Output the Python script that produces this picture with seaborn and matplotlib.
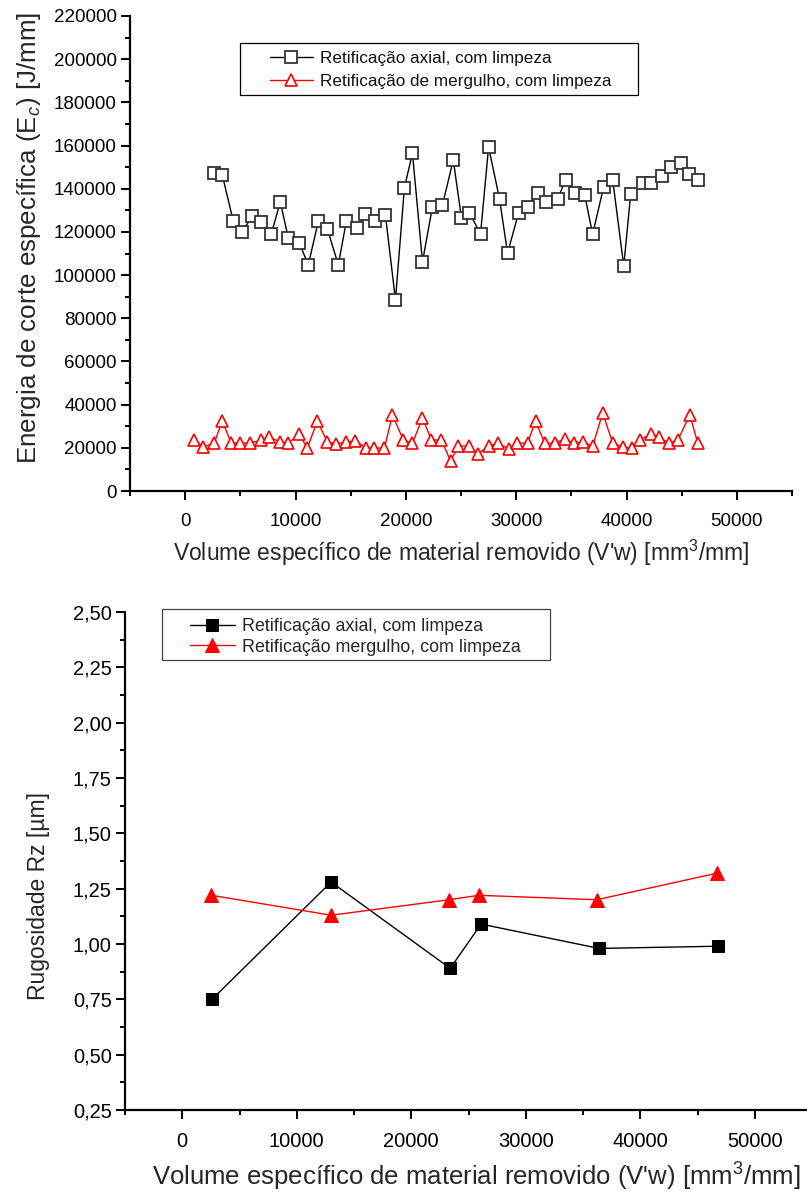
import matplotlib
matplotlib.use("Agg")
import matplotlib.pyplot as plt
import seaborn as sns
from matplotlib.patches import Rectangle
from matplotlib.ticker import FixedLocator, MultipleLocator

# ---------------- data ----------------
axial_x = [2630, 3360, 4360, 5170, 6080, 6900, 7800, 8620, 9350, 10340,
           11160, 12070, 12890, 13880, 14610, 15610, 16330, 17240, 18150, 19060,
           19870, 20600, 21510, 22410, 23320, 24300, 25040, 25770, 26770, 27500,
           28490, 29220, 30220, 31030, 31940, 32670, 33760, 34480, 35300, 36210,
           36930, 37930, 38750, 39750, 40380, 41470, 42200, 43190, 44010, 44920,
           45640, 46460]
axial_ec = [147500, 146400, 125000, 120000, 127400, 124600, 119000, 133900, 117200, 114900,
            104700, 125000, 121400, 104700, 125000, 121800, 128300, 125000, 127800, 88500,
            140400, 156500, 106100, 131600, 132500, 153300, 126500, 128800, 119000, 159300,
            135300, 110200, 128800, 131600, 138000, 133900, 135300, 144100, 138000, 137100,
            119000, 140800, 144100, 104200, 137600, 142700, 142700, 145900, 150100, 151900,
            146800, 144100]

merg_x = [820, 1630, 2630, 3360, 4170, 4990, 5900, 6900, 7620, 8620,
          9350, 10340, 11070, 11980, 12890, 13700, 14610, 15430, 16420, 17150,
          18060, 18780, 19780, 20600, 21510, 22320, 23230, 24050, 24770, 25770,
          26500, 27500, 28310, 29310, 30040, 31030, 31760, 32580, 33480, 34390,
          35210, 36030, 36930, 37840, 38750, 39660, 40470, 41200, 42200, 42920,
          43830, 44650, 45740, 46460]
merg_ec = [23600, 20400, 22200, 32400, 22200, 22200, 22200, 23600, 25000, 22700,
           22200, 26400, 19900, 32400, 22700, 21800, 22700, 23200, 19900, 19900,
           19900, 35200, 23600, 22200, 33800, 23600, 23600, 13900, 20800, 20800,
           17100, 20800, 22200, 19500, 22200, 22200, 32400, 22200, 22200, 24100,
           22200, 22700, 20800, 36100, 22200, 20400, 19900, 23600, 26400, 25000,
           22200, 23600, 35200, 22200]

rz_axial_x = [2600, 13000, 23400, 26100, 36400, 46800]
rz_axial = [0.75, 1.28, 0.89, 1.09, 0.98, 0.99]
rz_merg_x = [2550, 13000, 23300, 25900, 36200, 46700]
rz_merg = [1.22, 1.13, 1.20, 1.22, 1.20, 1.32]

x_ticks = [0, 10000, 20000, 30000, 40000, 50000]
x_ticklabels = ["0", "10000", "20000", "30000", "40000", "50000"]
ec_ticks = [0, 20000, 40000, 60000, 80000, 100000, 120000, 140000, 160000, 180000, 200000, 220000]
ec_ticklabels = [str(v) for v in ec_ticks]
rz_ticks = [0.25, 0.50, 0.75, 1.00, 1.25, 1.50, 1.75, 2.00, 2.25, 2.50]
rz_ticklabels = ["0,25", "0,50", "0,75", "1,00", "1,25", "1,50", "1,75", "2,00", "2,25", "2,50"]

lbl_axial_top = "Retificação axial, com limpeza"
lbl_merg_top = "Retificação de mergulho, com limpeza"
lbl_axial_bot = "Retificação axial, com limpeza"
lbl_merg_bot = "Retificação mergulho, com limpeza"
xlabel = "Volume específico de material removido (V'w) [mm$^3$/mm]"
ylabel_top = "Energia de corte específica (E$_c$) [J/mm]"
ylabel_bot = "Rugosidade Rz [µm]"

# ---------------- style ----------------
sns.set_style("ticks")
plt.rcParams["font.family"] = ["Liberation Sans", "DejaVu Sans"]
plt.rcParams["mathtext.fontset"] = "custom"
plt.rcParams["mathtext.rm"] = "Liberation Sans"
plt.rcParams["mathtext.it"] = "Liberation Sans:italic"

W, H = 807, 1196
fig = plt.figure(figsize=(W / 100, H / 100), dpi=100)

def px_axes(l, t, r, b):
    return fig.add_axes([l / W, 1 - b / H, (r - l) / W, (b - t) / H])

def px_box(ax, l, t, r, b, color):
    ax.add_patch(Rectangle((l / W, 1 - b / H), (r - l) / W, (b - t) / H,
                           transform=fig.transFigure, fill=True,
                           facecolor="white", edgecolor=color,
                           linewidth=0.9, zorder=4.5, clip_on=False))

ax1 = px_axes(130, 16, 792, 491)
ax2 = px_axes(125, 612, 807, 1110)

def style_axes(ax, size):
    for s in ["top", "right"]:
        ax.spines[s].set_visible(False)
    for s in ["left", "bottom"]:
        ax.spines[s].set_linewidth(1.6)
        ax.spines[s].set_color("black")
    ax.tick_params(which="major", direction="out", length=6.5, width=1.4,
                   labelsize=size, colors="black", pad=3)
    ax.tick_params(which="minor", direction="out", length=3.5, width=1.4, colors="black")
    ax.set_facecolor("white")

# ---------------- top chart ----------------
sns.lineplot(x=axial_x, y=axial_ec, ax=ax1, sort=False, errorbar=None,
             color="black", linewidth=1.0, marker="s", markersize=8,
             markerfacecolor="white", markeredgecolor="#333333", markeredgewidth=1.3,
             label=lbl_axial_top)
sns.lineplot(x=merg_x, y=merg_ec, ax=ax1, sort=False, errorbar=None,
             color="red", linewidth=1.0, marker="^", markersize=9,
             markerfacecolor="white", markeredgecolor="red", markeredgewidth=1.2,
             label=lbl_merg_top)
ax1.set_xlim(-5000, 55000)
ax1.set_ylim(0, 220000)
style_axes(ax1, 13.5)
ax1.xaxis.set_major_locator(FixedLocator(x_ticks))
ax1.set_xticklabels(x_ticklabels)
ax1.xaxis.set_minor_locator(MultipleLocator(5000))
ax1.yaxis.set_major_locator(FixedLocator(ec_ticks))
ax1.set_yticklabels(ec_ticklabels)
ax1.yaxis.set_minor_locator(MultipleLocator(10000))
ax1.tick_params(axis="x", pad=9)
ax1.set_xlabel(xlabel, fontsize=16.5, labelpad=6)
ax1.set_ylabel(ylabel_top, fontsize=18.7)
ax1.yaxis.set_label_coords(-0.131, 0.533)
px_box(ax1, 240, 43, 638, 95, "black")
leg1 = ax1.legend(loc="upper left", bbox_to_anchor=(270 / W, 1 - 51 / H),
                  bbox_transform=fig.transFigure, borderaxespad=0,
                  frameon=False, fontsize=12.3, handlelength=2.5, handletextpad=0.45,
                  labelspacing=0.45, borderpad=0.0)
leg1.set_zorder(6)
for t in leg1.get_texts():
    t.set_color("#111111")

# ---------------- bottom chart ----------------
sns.lineplot(x=rz_axial_x, y=rz_axial, ax=ax2, sort=False, errorbar=None,
             color="black", linewidth=1.0, marker="s", markersize=8.5,
             markerfacecolor="black", markeredgecolor="black",
             label=lbl_axial_bot)
sns.lineplot(x=rz_merg_x, y=rz_merg, ax=ax2, sort=False, errorbar=None,
             color="red", linewidth=1.0, marker="^", markersize=10,
             markerfacecolor="red", markeredgecolor="red",
             label=lbl_merg_bot)
ax2.set_xlim(-5000, 54560)
ax2.set_ylim(0.25, 2.5)
style_axes(ax2, 14.5)
ax2.xaxis.set_major_locator(FixedLocator(x_ticks))
ax2.set_xticklabels(x_ticklabels)
ax2.xaxis.set_minor_locator(MultipleLocator(5000))
ax2.yaxis.set_major_locator(FixedLocator(rz_ticks))
ax2.set_yticklabels(rz_ticklabels)
ax2.yaxis.set_minor_locator(MultipleLocator(0.125))
ax2.tick_params(axis="x", pad=9)
ax2.set_xlabel(xlabel, fontsize=18.5)
ax2.xaxis.set_label_coords(0.515, -0.102)
ax2.set_ylabel(ylabel_bot, fontsize=16.5)
ax2.yaxis.set_label_coords(-0.11, 0.43)
px_box(ax2, 162, 609, 550, 660, "#444444")
leg2 = ax2.legend(loc="upper left", bbox_to_anchor=(190 / W, 1 - 618 / H),
                  bbox_transform=fig.transFigure, borderaxespad=0,
                  frameon=False, fontsize=12.9, handlelength=2.5, handletextpad=0.4,
                  labelspacing=0.2, borderpad=0.0)
leg2.set_zorder(6)

fig.savefig("out.png", dpi=100, facecolor="white")
